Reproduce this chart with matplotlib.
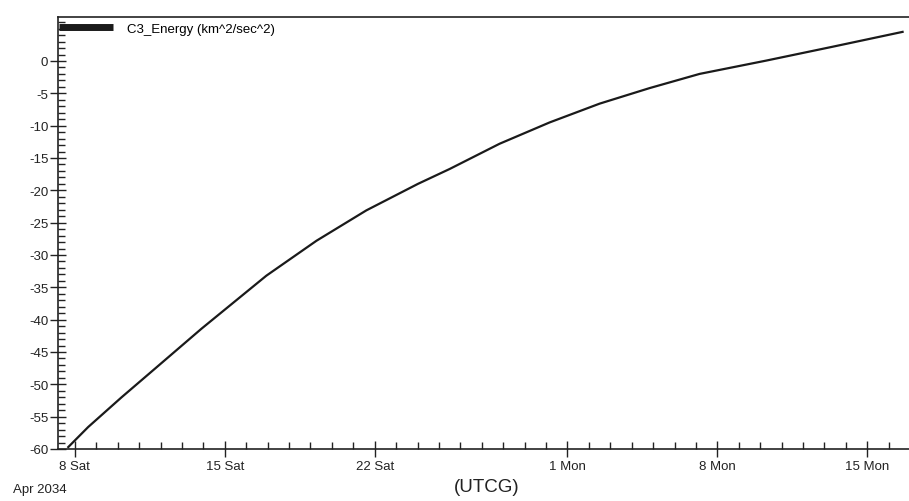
import datetime as dt

import matplotlib
matplotlib.use('Agg')
import matplotlib.pyplot as plt
import matplotlib.dates as mdates
from matplotlib.ticker import MultipleLocator, FixedLocator, FuncFormatter

plt.rcParams['font.family'] = ['Liberation Sans', 'DejaVu Sans']
plt.rcParams['axes.unicode_minus'] = False

# C3 energy: days after 2034-04-08 00:00 UTCG, km^2/s^2
day_offsets = [-0.31, 0.62, 2.18, 3.73, 5.91, 8.94, 11.28, 13.61, 16.02,
               17.5, 19.83, 22.17, 24.5, 26.83, 29.17, 32.27, 35.38, 38.65]
c3_energy = [-59.7, -56.6, -52.0, -47.6, -41.4, -33.2, -27.8, -23.1, -19.0,
             -16.7, -12.8, -9.5, -6.6, -4.2, -2.0, 0.05, 2.2, 4.5]
major_days = [1, 8, 15, 22]
y_labels = list(range(-60, 1, 5))

start = dt.datetime(2034, 4, 8)
times = [start + dt.timedelta(days=d) for d in day_offsets]

fig = plt.figure(figsize=(9.09, 5.02), dpi=100)
ax = fig.add_axes([58 / 909, 52 / 502, 1 - 58 / 909, 432 / 502])

ax.plot(times, c3_energy, color='#1a1a1a', lw=1.6,
        label='C3_Energy (km^2/sec^2)')

ax.set_xlim(start + dt.timedelta(days=-0.79), start + dt.timedelta(days=38.95))
ax.set_ylim(-60, 6.8)

# 轴刻度
ax.xaxis.set_major_locator(mdates.DayLocator(bymonthday=major_days))
ax.xaxis.set_minor_locator(mdates.DayLocator())
ax.xaxis.set_major_formatter(FuncFormatter(
    lambda x, pos: '{} {}'.format(mdates.num2date(x).day,
                                  mdates.num2date(x).strftime('%a'))))
ax.yaxis.set_major_locator(FixedLocator(y_labels))
ax.yaxis.set_minor_locator(MultipleLocator(1))

ax.tick_params(axis='both', which='major', direction='inout', length=12,
               width=1, labelsize=9.5, colors='#222222')
ax.tick_params(axis='both', which='minor', direction='in', length=5,
               width=1, colors='#222222')
ax.tick_params(axis='x', which='major', pad=2)
ax.tick_params(axis='y', which='major', pad=1)

for side in ['left', 'bottom', 'top']:
    ax.spines[side].set_color('#222222')
    ax.spines[side].set_linewidth(1.2)
ax.spines['right'].set_visible(False)

leg = ax.legend(loc='upper left', bbox_to_anchor=(0.0, 0.99), frameon=False,
                fontsize=9.5, handlelength=4.1, handletextpad=1.0,
                borderaxespad=0.0, borderpad=0.1)
for line in leg.get_lines():
    line.set_linewidth(5)
    line.set_solid_capstyle('butt')

fig.text(13 / 909, 1 - 490 / 502, 'Apr 2034', fontsize=9.5,
         color='#222222', va='center', ha='left')
fig.text(487 / 909, 1 - 488 / 502, '(UTCG)', fontsize=13.5,
         color='#222222', va='center', ha='center')

fig.savefig('out.png', dpi=100)
